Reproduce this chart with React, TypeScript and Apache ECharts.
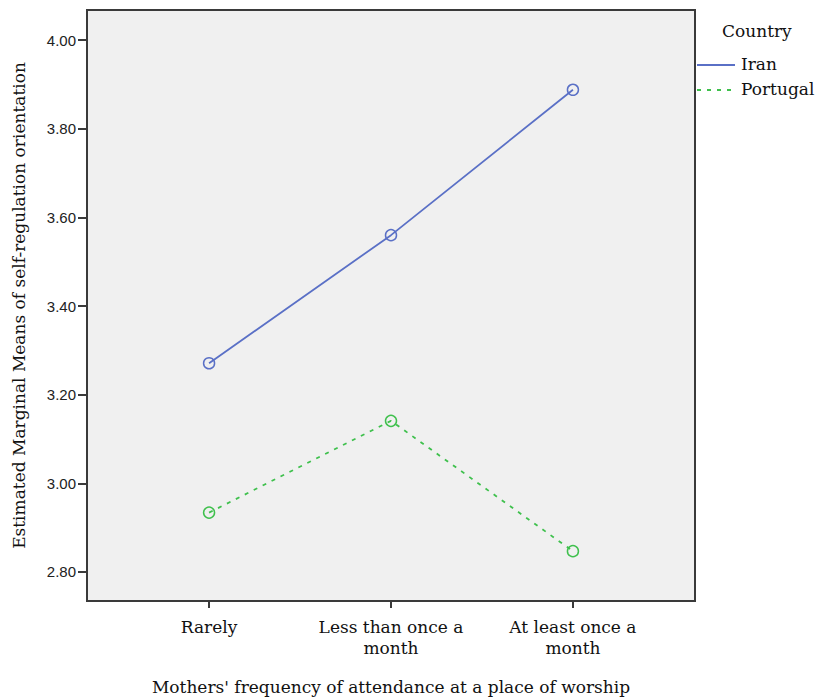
import React, { useEffect, useRef } from "react";
import * as echarts from "echarts";

const categories = ["Rarely", "Less than once a\nmonth", "At least once a\nmonth"];
const seriesNames = ["Iran", "Portugal"];
const iranValues = [3.271, 3.56, 3.888];
const portugalValues = [2.934, 3.141, 2.847];
const yTicks = [2.8, 3.0, 3.2, 3.4, 3.6, 3.8, 4.0];
const xTicks = [0, 1, 2];

const SERIF = "'DejaVu Serif', serif";
const SANS = "'Liberation Sans', Arial, sans-serif";
const BLUE = "#5a70c6";
const GREEN = "#3fc04d";

export default function App() {
  const ref = useRef<HTMLDivElement>(null);
  useEffect(() => {
    if (!ref.current) return;
    const chart = echarts.init(ref.current, undefined, { renderer: "svg" });
    const mk = (vals: number[]) => vals.map((v, i) => [xTicks[i], v]);
    chart.setOption({
      animation: false,
      backgroundColor: "#ffffff",
      grid: {
        left: 87,
        top: 10,
        width: 608,
        height: 591,
        show: true,
        containLabel: false,
        outerBoundsMode: "none",
        backgroundColor: "#f0f0f0",
        borderColor: "#3a3a3a",
        borderWidth: 2,
      },
      legend: { show: false },
      graphic: [
        {
          type: "text",
          left: 722,
          top: 22,
          style: { text: "Country", fontFamily: SERIF, fontSize: 17, fill: "#111" },
        },
        {
          type: "line",
          shape: { x1: 697, y1: 65, x2: 735, y2: 65 },
          style: { stroke: BLUE, lineWidth: 1.8 },
        },
        {
          type: "text",
          left: 741,
          top: 55,
          style: { text: seriesNames[0], fontFamily: SERIF, fontSize: 17, fill: "#111" },
        },
        {
          type: "line",
          shape: { x1: 697, y1: 90, x2: 735, y2: 90 },
          style: { stroke: GREEN, lineWidth: 1.8, lineDash: [4, 6] },
        },
        {
          type: "text",
          left: 741,
          top: 80,
          style: { text: seriesNames[1], fontFamily: SERIF, fontSize: 17, fill: "#111" },
        },
      ],
      xAxis: {
        type: "value",
        min: -0.671,
        max: 2.671,
        name: "Mothers' frequency of attendance at a place of worship",
        nameLocation: "middle",
        nameGap: 77,
        nameTextStyle: { fontFamily: SERIF, fontSize: 17, color: "#111" },
        splitLine: { show: false },
        axisLine: { show: true, onZero: false, lineStyle: { color: "#3a3a3a", width: 2 } },
        axisTick: { show: true, length: 7, customValues: xTicks, lineStyle: { color: "#3a3a3a", width: 2 } },
        axisLabel: {
          customValues: xTicks,
          formatter: (v: number) => categories[Math.round(v)] ?? "",
          fontFamily: SERIF,
          fontSize: 17,
          color: "#111",
          lineHeight: 21,
          margin: 15,
        },
      },
      yAxis: {
        type: "value",
        min: 2.7345,
        max: 4.068,
        name: "Estimated Marginal Means of self-regulation orientation",
        nameLocation: "middle",
        nameGap: 60,
        nameTextStyle: { fontFamily: SERIF, fontSize: 17, color: "#111" },
        splitLine: { show: false },
        axisLine: { show: true, onZero: false, lineStyle: { color: "#3a3a3a", width: 2 } },
        axisTick: { show: true, length: 9, customValues: yTicks, lineStyle: { color: "#3a3a3a", width: 2 } },
        axisLabel: {
          customValues: yTicks,
          formatter: (v: number) => v.toFixed(2),
          fontFamily: SANS,
          fontSize: 15,
          color: "#222",
          margin: 11,
        },
      },
      series: [
        {
          name: seriesNames[0],
          type: "line",
          data: mk(iranValues),
          symbol: "circle",
          symbolSize: 11,
          lineStyle: { color: BLUE, width: 1.8, type: "solid" },
          itemStyle: { color: "rgba(0,0,0,0)", borderColor: BLUE, borderWidth: 1.5 },
        },
        {
          name: seriesNames[1],
          type: "line",
          data: mk(portugalValues),
          symbol: "circle",
          symbolSize: 11,
          lineStyle: { color: GREEN, width: 1.8, type: [4, 6] },
          itemStyle: { color: "rgba(0,0,0,0)", borderColor: GREEN, borderWidth: 1.5 },
        },
      ],
    });
    return () => chart.dispose();
  }, []);
  return (
    <div
      ref={ref}
      style={{ position: "absolute", left: 0, top: 0, width: 816, height: 700 }}
    />
  );
}
